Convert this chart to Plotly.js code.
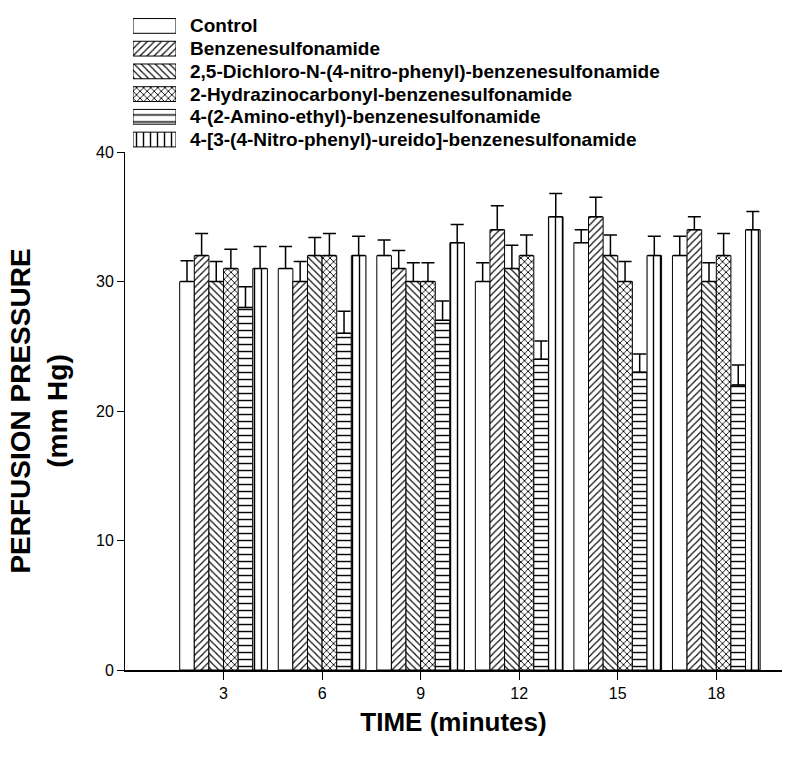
<!DOCTYPE html>
<html>
<head>
<meta charset="utf-8">
<script src="https://cdn.plot.ly/plotly-3.0.1.min.js"></script>
<style>html,body{margin:0;padding:0;background:#fff;}#chart{width:804px;height:758px;}</style>
</head>
<body>
<div id="chart"></div>
<script>
const times = [3, 6, 9, 12, 15, 18];
const tickLabels = ['3', '6', '9', '12', '15', '18'];
const yTicks = [0, 10, 20, 30, 40];

const seriesNames = [
  'Control',
  'Benzenesulfonamide',
  '2,5-Dichloro-N-(4-nitro-phenyl)-benzenesulfonamide',
  '2-Hydrazinocarbonyl-benzenesulfonamide',
  '4-(2-Amino-ethyl)-benzenesulfonamide',
  '4-[3-(4-Nitro-phenyl)-ureido]-benzenesulfonamide'
];

const control      = [30, 31, 32, 30, 33, 32];
const benzene      = [32, 30, 31, 34, 35, 34];
const dichloro     = [30, 32, 30, 31, 32, 30];
const hydrazino    = [31, 32, 30, 32, 30, 32];
const aminoEthyl   = [28, 26, 27, 24, 23, 22];
const nitroUreido  = [31, 32, 33, 35, 32, 34];

const controlErr     = [1.6, 1.7, 1.2, 1.45, 1.0, 1.5];
const benzeneErr     = [1.7, 1.55, 1.4, 1.85, 1.5, 1.0];
const dichloroErr    = [1.55, 1.4, 1.45, 1.8, 1.6, 1.45];
const hydrazinoErr   = [1.5, 1.7, 1.45, 1.6, 1.55, 1.7];
const aminoEthylErr  = [1.6, 1.7, 1.5, 1.4, 1.4, 1.55];
const nitroUreidoErr = [1.7, 1.5, 1.4, 1.8, 1.5, 1.4];

const values = [control, benzene, dichloro, hydrazino, aminoEthyl, nitroUreido];
const errors = [controlErr, benzeneErr, dichloroErr, hydrazinoErr, aminoEthylErr, nitroUreidoErr];
const patterns = ['', '/', '\\', 'x', '-', '|'];
const patternSizes = [6, 5, 5, 5, 7, 7];
const patternSolidity = [0.2, 0.22, 0.22, 0.32, 0.2, 0.2];

const FONT = 'Liberation Sans, Arial, sans-serif';

const traces = seriesNames.map((name, i) => ({
  type: 'bar',
  name: name,
  x: times,
  y: values[i],
  xaxis: 'x',
  yaxis: 'y',
  marker: {
    color: 'white',
    line: {color: 'black', width: 1},
    pattern: {shape: patterns[i], fgcolor: 'black', bgcolor: 'white', size: patternSizes[i], solidity: patternSolidity[i]}
  },
  error_y: {
    type: 'data',
    symmetric: false,
    array: errors[i],
    arrayminus: errors[i].map(() => 0),
    color: 'black',
    thickness: 1.5,
    width: 6.5
  },
  showlegend: false,
  hoverinfo: 'none'
}));

// legend swatches drawn as bars on a hidden axis pair
traces.push({
  type: 'bar',
  orientation: 'h',
  x: seriesNames.map(() => 1),
  y: seriesNames,
  width: 0.65,
  xaxis: 'x2',
  yaxis: 'y2',
  marker: {
    color: 'white',
    line: {color: 'black', width: 1},
    pattern: {shape: patterns, fgcolor: 'black', bgcolor: 'white', size: patternSizes, solidity: patternSolidity}
  },
  showlegend: false,
  hoverinfo: 'none'
});

const legendAnnotations = seriesNames.map((name) => ({
  xref: 'paper', yref: 'y2',
  x: 0.0959, y: name,
  xanchor: 'left', yanchor: 'middle',
  text: name,
  showarrow: false,
  font: {family: FONT, size: 19, color: 'black', weight: 'bold'}
}));

const layout = {
  width: 804,
  height: 758,
  paper_bgcolor: 'white',
  plot_bgcolor: 'white',
  margin: {l: 125, r: 22, t: 10, b: 88},
  barmode: 'group',
  bargap: 0.11,
  bargroupgap: 0,
  showlegend: false,
  font: {family: FONT, color: 'black'},
  annotations: legendAnnotations,
  xaxis: {
    domain: [0, 1],
    anchor: 'y',
    range: [0, 20],
    tickvals: times,
    ticktext: tickLabels,
    ticks: 'outside',
    ticklen: 8,
    tickwidth: 1,
    tickcolor: 'black',
    showline: true,
    linecolor: 'black',
    linewidth: 1.5,
    showgrid: false,
    zeroline: false,
    tickfont: {size: 16, family: FONT, color: 'black'},
    title: {text: 'TIME (minutes)', font: {size: 26, family: FONT, color: 'black', weight: 'bold'}, standoff: 12}
  },
  yaxis: {
    domain: [0, 0.7848],
    anchor: 'x',
    range: [0, 40],
    tickvals: yTicks,
    ticks: 'outside',
    ticklen: 7,
    tickwidth: 1,
    tickcolor: 'black',
    showline: true,
    linecolor: 'black',
    linewidth: 1,
    showgrid: false,
    zeroline: false,
    tickfont: {size: 16, family: FONT, color: 'black'},
    title: {text: 'PERFUSION PRESSURE<br>(mm Hg)', font: {size: 28, family: FONT, color: 'black', weight: 'bold'}, standoff: 20}
  },
  xaxis2: {
    domain: [0.0122, 0.0776],
    anchor: 'y2',
    range: [0, 1],
    visible: false,
    fixedrange: true
  },
  yaxis2: {
    domain: [0.7848, 0.9948],
    anchor: 'x2',
    type: 'category',
    autorange: 'reversed',
    visible: false,
    fixedrange: true
  }
};

Plotly.newPlot('chart', traces, layout, {displayModeBar: false, staticPlot: true});
</script>
</body>
</html>
